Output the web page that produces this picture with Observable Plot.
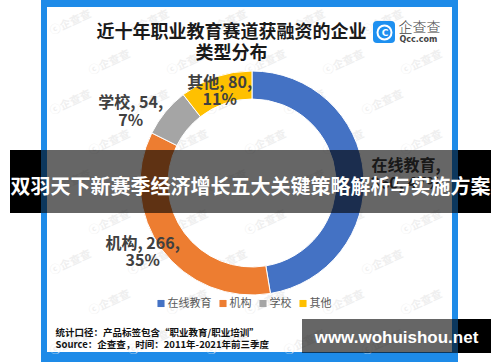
<!DOCTYPE html>
<html><head><meta charset="utf-8">
<script src="https://cdn.jsdelivr.net/npm/d3@7"></script>
<script src="https://cdn.jsdelivr.net/npm/@observablehq/plot@0.6"></script>
<style>body{margin:0;background:#fff;} svg{display:block;}</style>
</head><body><div id="chart"></div>
<script>
// ---- data ----
const categories = ["在线教育", "机构", "学校", "其他"];
const values = [360, 266, 54, 80];
const percents = [47, 35, 7, 11];
const colors = ["#4472C4", "#ED7D31", "#A5A5A5", "#FFC000"];
const titleLines = ["近十年职业教育赛道获融资的企业", "类型分布"];
const notes = ["统计口径：产品标签包含“职业教育/职业培训”", "Source：企查查，时间：2011年-2021年前三季度"];
const bannerText = "双羽天下新赛季经济增长五大关键策略解析与实施方案";
const siteText = "www.wohuishou.net";
const brand = ["企查查", "Qcc.com"];

// ---- layout (not data) ----
const W = 500, H = 362;
const CX = 252, CY = 183, R0 = 84, R1 = 112, RL = 98;
const labelNudge = {"在线教育": [56, -1], "机构": [-31, 10], "学校": [-46, -10], "其他": [-1, 0]};
const FONT = "'Noto Sans CJK SC', 'Noto Sans', sans-serif";

const data = categories.map((c, i) => ({cat: c, value: values[i], pct: percents[i], i}));
const arcs = d3.pie().sort(null).value(d => d.value)(data);
const labels = arcs.map(a => {
  const mid = (a.startAngle + a.endAngle) / 2;
  const d = a.data;
  const [nx, ny] = labelNudge[d.cat];
  return {
    ...d,
    lx: CX + RL * Math.sin(mid) + nx,
    ly: CY - RL * Math.cos(mid) + ny,
    text: d.i === 0 ? `${d.cat},\n${d.value}, ${d.pct}%` : `${d.cat}, ${d.value},\n${d.pct}%`
  };
});

// legend layout: square 7px, gap 3, text 11px/char, gap 8
let lx = 157;
const legend = data.map(d => {
  const item = {...d, sx: lx + 3.5, tx: lx + 10};
  lx += 7 + 3 + d.cat.length * 11 + 8;
  return item;
});

// faint background watermarks (decoration), kept inside the frame
const wm = [];
for (let r = 0; r < 9; r++) for (let c = 0; c < 6; c++) {
  const x = 70 + c * 78 + (r % 2 ? 39 : 0);
  if (x < 430) wm.push({x, y: 22 + r * 40});
}

const donut = (index, scales) => {
  const sx = scales.x || (v => v), sy = scales.y || (v => v);
  const col = scales.color || (c => colors[categories.indexOf(c)]);
  const g = d3.create("svg:g").attr("transform", `translate(${sx(CX)},${sy(CY)})`);
  const arc = d3.arc().innerRadius(R0).outerRadius(R1);
  g.selectAll("path").data(arcs).join("path")
    .attr("d", arc)
    .attr("fill", d => col(d.data.cat))
    .attr("stroke", "#fff")
    .attr("stroke-width", 1);
  return g.node();
};

const plot = Plot.plot({
  width: W, height: H,
  margin: 0,
  x: {domain: [0, W], range: [0, W], axis: null},
  y: {domain: [0, H], range: [0, H], axis: null},
  color: {domain: categories, range: colors},
  style: {fontFamily: FONT, background: "#fff", overflow: "visible"},
  marks: [
    // frame
    Plot.rect([0], {x1: 41, x2: 458, y1: 0, y2: H, fill: "#1E8BE8"}),
    Plot.rect([0], {x1: 47, x2: 452, y1: 7, y2: 352, fill: "#fff"}),
    // watermarks
    Plot.text(wm, {x: "x", y: "y", text: () => "ⓒ企查查", fill: "#efefef", fontSize: 11, rotate: -25, fontFamily: FONT, fontWeight: "bold"}),
    // title
    Plot.text(titleLines, {x: 231, y: (d, i) => 32 + i * 21, text: d => d, fontSize: 18, fontWeight: "bold", fill: "#1a1a1a", fontFamily: FONT}),
    // brand logo
    Plot.rect([0], {x1: 373, x2: 395, y1: 21, y2: 43, fill: "#1E90F0", rx: 4}),
    Plot.dot([0], {x: 384, y: 32, r: 7, stroke: "#fff", strokeWidth: 2, fill: "none"}),
    Plot.text([0], {x: 384.5, y: 32.5, text: () => "C", fill: "#fff", fontSize: 9, fontWeight: "bold", fontFamily: "'DejaVu Sans', sans-serif"}),
    Plot.text([brand[0]], {x: 398, y: 27, text: d => d, textAnchor: "start", fontSize: 14, fill: "#444", fontFamily: FONT, fontWeight: 300}),
    Plot.text([brand[1]], {x: 399, y: 38.5, text: d => d, textAnchor: "start", fontSize: 8, fill: "#444", fontWeight: "bold", fontFamily: "'DejaVu Sans', sans-serif", letterSpacing: "1.6px"}),
    // donut
    donut,
    // data labels
    Plot.text(labels, {x: "lx", y: "ly", text: "text", fontSize: 16, lineHeight: 1.1, fill: "#404040", fontWeight: "bold", fontFamily: FONT}),
    // legend
    Plot.dot(legend, {x: "sx", y: 303, symbol: "square", r: 4, fill: "cat"}),
    Plot.text(legend, {x: "tx", y: 303, text: "cat", textAnchor: "start", fontSize: 11, fill: "#595959", fontFamily: FONT}),
    // notes
    Plot.text(notes, {x: 55, y: (d, i) => 332 + i * 12, text: d => d, textAnchor: "start", fontSize: 9.5, fontWeight: "bold", fill: "#111", fontFamily: FONT}),
    // banner overlay
    Plot.rect([0], {x1: 10, x2: 41, y1: 150, y2: 213, fill: "#000"}),
    Plot.rect([0], {x1: 458, x2: 491, y1: 150, y2: 213, fill: "#000"}),
    Plot.rect([0], {x1: 41, x2: 458, y1: 150, y2: 213, fill: "#000", fillOpacity: 0.6}),
    Plot.text([bannerText], {x: 250, y: 187, text: d => d, fontSize: 20, fontWeight: "bold", fill: "#fff", fontFamily: FONT}),
    // site overlay
    Plot.rect([0], {x1: 302, x2: 458, y1: 319, y2: 353, fill: "#000", fillOpacity: 0.6}),
    Plot.rect([0], {x1: 458, x2: 491, y1: 319, y2: 353, fill: "#000"}),
    Plot.text([siteText], {x: 396, y: 337, text: d => d, fontSize: 17, fontWeight: "bold", fill: "#fff", fontFamily: "'Liberation Sans', Arial, sans-serif"})
  ]
});
document.getElementById("chart").appendChild(plot);
</script>
</body></html>
